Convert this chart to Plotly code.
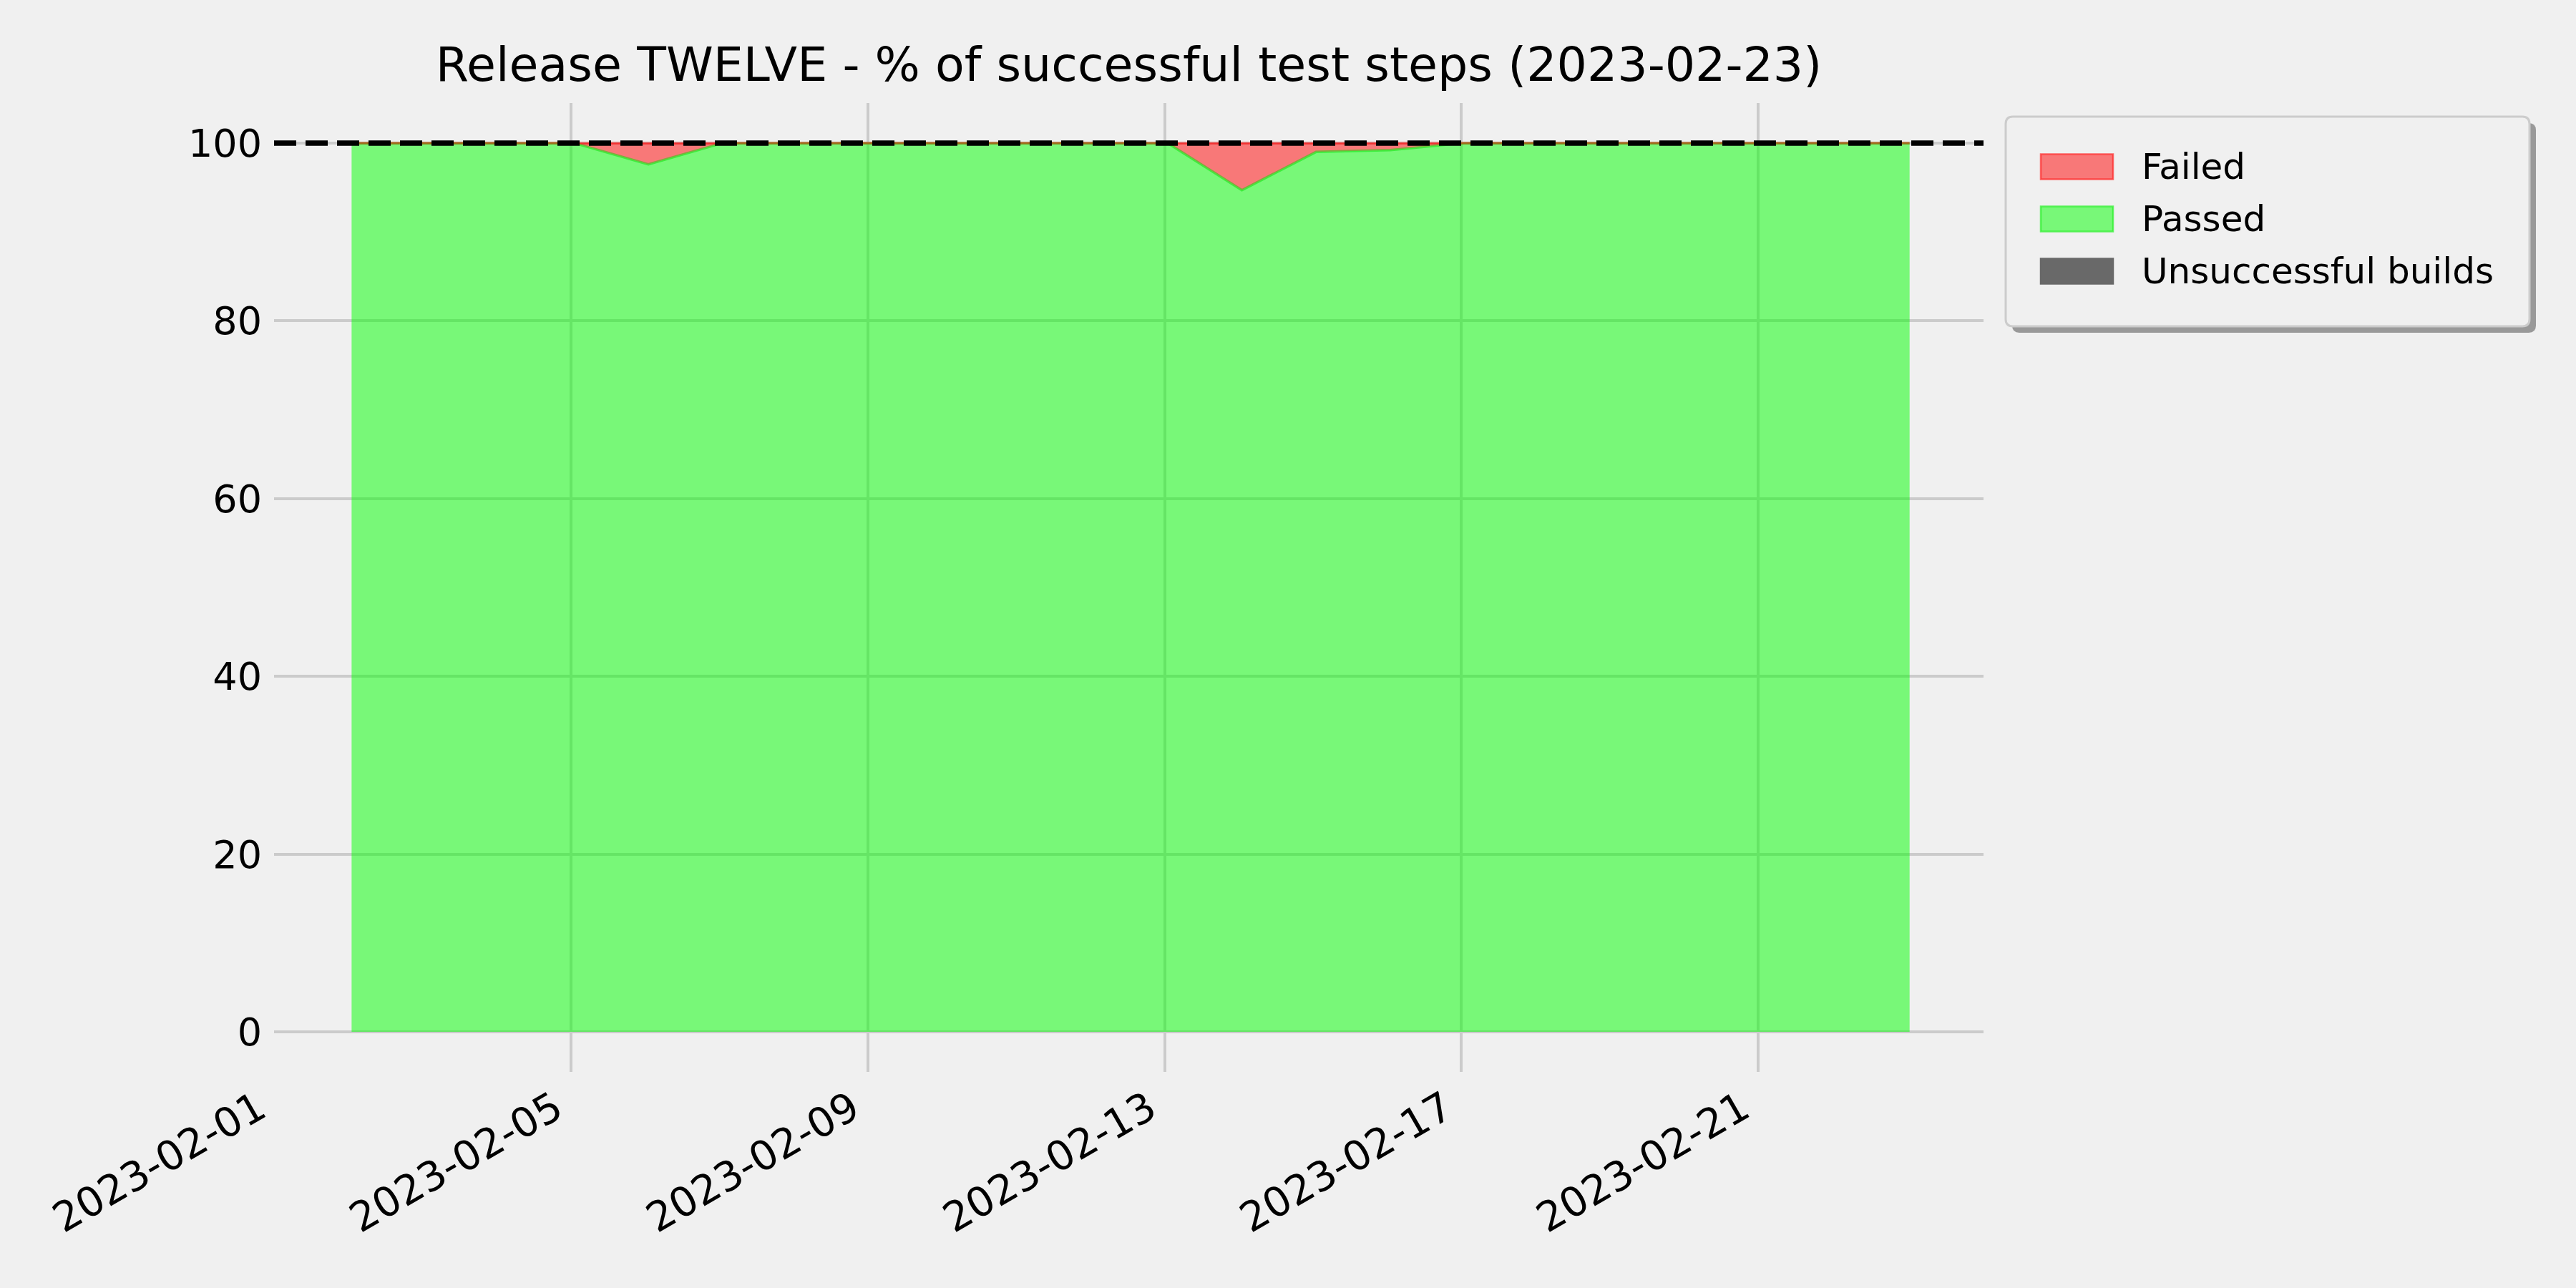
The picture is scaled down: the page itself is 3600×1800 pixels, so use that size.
import plotly.graph_objects as go

# ---------------- data ----------------
dates = [f"2023-02-{d:02d} 01:00" for d in range(2, 24)]
failed = [0, 0, 0, 0, 2.4, 0, 0, 0, 0, 0, 0, 0, 5.3, 1.0, 0.8, 0,
          0, 0, 0, 0, 0, 0]
unsuccessful = [0] * len(dates)
passed = [round(100 - f - u, 2) for f, u in zip(failed, unsuccessful)]

x_tick_vals = ["2023-02-01", "2023-02-05", "2023-02-09", "2023-02-13",
               "2023-02-17", "2023-02-21"]
y_tick_vals = [0, 20, 40, 60, 80, 100]
target_pct = 100

title_text = "Release TWELVE - % of successful test steps (2023-02-23)"
legend_names = ["Failed", "Passed", "Unsuccessful builds"]
legend_fill = ["rgba(255,0,0,0.5)", "rgba(0,255,0,0.5)", "#696969"]
legend_edge = ["rgba(255,40,40,0.7)", "rgba(40,240,40,0.7)", "#696969"]

# ---------------- layout geometry (pixels) ----------------
W, H = 3600, 1800
L, R, T, B = 383, 2772, 144, 1498
PW, PH = R - L, B - T
BG = "#f0f0f0"
FONT = "DejaVu Sans"


def px(xp):
    return (xp - L) / PW


def py(yp):
    return (B - yp) / PH


def rrect_path(x0, y0, x1, y1, r):
    pts = [
        ("M", [(x0 + r, y0)]),
        ("L", [(x1 - r, y0)]),
        ("Q", [(x1, y0), (x1, y0 + r)]),
        ("L", [(x1, y1 - r)]),
        ("Q", [(x1, y1), (x1 - r, y1)]),
        ("L", [(x0 + r, y1)]),
        ("Q", [(x0, y1), (x0, y1 - r)]),
        ("L", [(x0, y0 + r)]),
        ("Q", [(x0, y0), (x0 + r, y0)]),
    ]
    s = ""
    for cmd, ps in pts:
        s += cmd + " ".join(f"{px(a):.6f},{py(b):.6f}" for a, b in ps) + " "
    return s + "Z"


fig = go.Figure()

fig.add_trace(go.Scatter(
    x=dates, y=passed, name="Passed", stackgroup="one", mode="lines",
    line=dict(color="rgba(0,230,0,0.5)", width=3.5),
    fillcolor="rgba(0,255,0,0.5)", showlegend=False,
))
fig.add_trace(go.Scatter(
    x=dates, y=failed, name="Failed", stackgroup="one", mode="lines",
    line=dict(color="rgba(255,0,0,0.5)", width=3.5),
    fillcolor="rgba(255,0,0,0.5)", showlegend=False,
))
fig.add_trace(go.Scatter(
    x=dates, y=unsuccessful, name="Unsuccessful builds", stackgroup="one",
    mode="lines", line=dict(color="#696969", width=0),
    fillcolor="#696969", showlegend=False,
))

shapes = []
# dashed target line
shapes.append(dict(type="line", xref="paper", x0=0, x1=1, yref="y",
                   y0=target_pct, y1=target_pct, layer="above",
                   line=dict(color="black", width=7.5, dash="31px,13px")))

# legend box (shadow + box)
lx0, ly0, lx1, ly1 = 2803, 163, 3535, 456
shapes.append(dict(type="path", xref="paper", yref="paper", layer="above",
                   path=rrect_path(lx0 + 9, ly0 + 9, lx1 + 9, ly1 + 9, 10),
                   fillcolor="#999999", line=dict(width=0)))
shapes.append(dict(type="path", xref="paper", yref="paper", layer="above",
                   path=rrect_path(lx0, ly0, lx1, ly1, 10),
                   fillcolor=BG, line=dict(color="#cccccc", width=3)))

annotations = []
centers = [233, 306, 379]
for name, fc, ec, cy in zip(legend_names, legend_fill, legend_edge, centers):
    shapes.append(dict(type="rect", xref="paper", yref="paper", layer="above",
                       x0=px(2852), x1=px(2953), y0=py(cy - 17.5),
                       y1=py(cy + 17.5), fillcolor=fc,
                       line=dict(color=ec, width=2.5)))
    annotations.append(dict(xref="paper", yref="paper", x=px(2991), y=py(cy),
                            xanchor="left", yanchor="middle", showarrow=False,
                            text=name, font=dict(family=FONT, size=50,
                                                 color="black")))

fig.update_layout(
    width=W, height=H,
    margin=dict(l=L, r=W - R, t=T, b=H - B, autoexpand=False),
    paper_bgcolor=BG, plot_bgcolor=BG,
    font=dict(family=FONT, size=54, color="black"),
    title=dict(text=title_text, x=0.5, xref="paper", xanchor="center",
               y=1 - 90 / H, yref="container", yanchor="middle",
               font=dict(family=FONT, size=66.6, color="black")),
    showlegend=False,
    shapes=shapes,
    annotations=annotations,
    hovermode=False,
)

fig.update_xaxes(
    type="date",
    range=["2023-01-31 23:55", "2023-02-24 00:55"],
    tickvals=x_tick_vals, tickformat="%Y-%m-%d", tickangle=-30,
    showgrid=True, gridcolor="#cbcbcb", gridwidth=4,
    zeroline=False, showline=False, ticks="",
    ticklabelshift=-22, ticklabelstandoff=6,
    tickfont=dict(family=FONT, size=57, color="black"),
)
fig.update_yaxes(
    range=[-4.5, 104.5], tickvals=y_tick_vals,
    showgrid=True, gridcolor="#cbcbcb", gridwidth=4,
    zeroline=False, showline=False, ticks="", ticklabelstandoff=16,
    tickfont=dict(family=FONT, size=54, color="black"),
)

fig.write_html("out.html",
               config={"displayModeBar": False, "staticPlot": True},
               post_script="document.body.style.margin='0px';"
                           "document.body.style.padding='0px';")
